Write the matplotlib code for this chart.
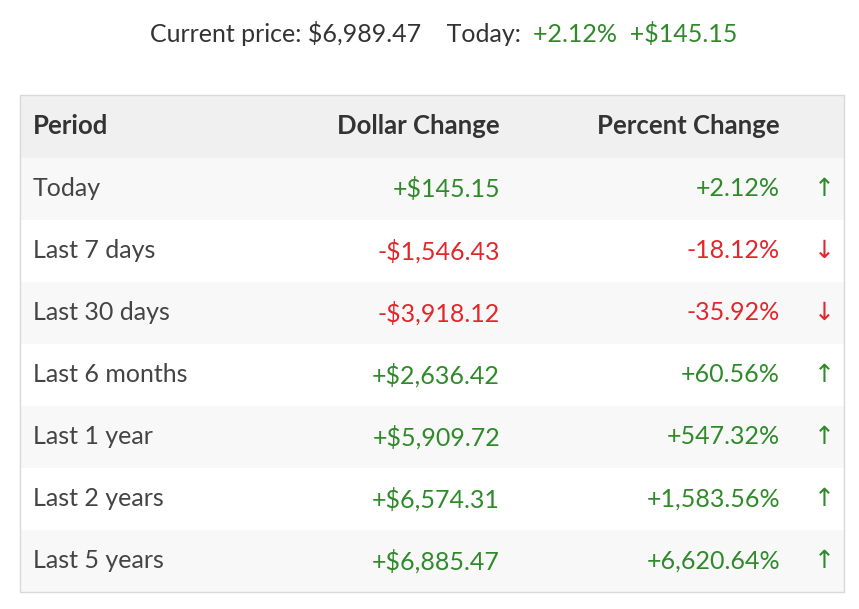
import matplotlib
matplotlib.use("Agg")
import matplotlib.pyplot as plt
from matplotlib.patches import Rectangle

periods = ["Today", "Last 7 days", "Last 30 days", "Last 6 months", "Last 1 year", "Last 2 years", "Last 5 years"]
dollar = ["+$145.15", "-$1,546.43", "-$3,918.12", "+$2,636.42", "+$5,909.72", "+$6,574.31", "+$6,885.47"]
percent = ["+2.12%", "-18.12%", "-35.92%", "+60.56%", "+547.32%", "+1,583.56%", "+6,620.64%"]
headers = ["Period", "Dollar Change", "Percent Change"]
current_price = "$6,989.47"
today_pct = "+2.12%"
today_usd = "+$145.15"

GREEN = "#2f8a2a"
RED = "#e3262b"
GRAY = "#444444"
FONT = "Lato"

fig = plt.figure(figsize=(8.59, 6.09), dpi=100)
ax = fig.add_axes([0, 0, 1, 1])
ax.set_xlim(0, 859); ax.set_ylim(609, 0); ax.axis("off")

ax.text(527, 34, f"Current price: {current_price}    Today: ", ha="right", va="center",
        fontsize=18, color="#333333", family=FONT)
ax.text(533, 34, f"{today_pct}  {today_usd}", ha="left", va="center",
        fontsize=18, color=GREEN, family=FONT)

x0, x1 = 20, 844
top, hh, rh = 95, 63, 62
ax.add_patch(Rectangle((x0, top), x1 - x0, hh, facecolor="#f0f0f0", edgecolor="none"))
hy = top + hh / 2
for x, h, ha in zip([33, 500, 780], headers, ["left", "right", "right"]):
    ax.text(x, hy, h, ha=ha, va="center", fontsize=18.5, weight="bold", color="#333333", family=FONT)

for i, (p, d, pc) in enumerate(zip(periods, dollar, percent)):
    y = top + hh + i * rh
    ax.add_patch(Rectangle((x0, y), x1 - x0, rh, facecolor="#f8f8f8" if i % 2 == 0 else "white", edgecolor="none"))
    c = RED if d.startswith("-") else GREEN
    cy = y + rh / 2
    ax.text(33, cy, p, ha="left", va="center", fontsize=18, color=GRAY, family=FONT)
    ax.text(500, cy, d, ha="right", va="center", fontsize=18, color=c, family=FONT)
    ax.text(780, cy, pc, ha="right", va="center", fontsize=18, color=c, family=FONT)
    ax.text(824, cy, "↓" if d.startswith("-") else "↑", ha="center", va="center",
            fontsize=18, color=c, family="DejaVu Sans")

bottom = top + hh + len(periods) * rh
ax.add_patch(Rectangle((x0, top), x1 - x0, bottom - top, facecolor="none", edgecolor="#d9d9d9", lw=1))

fig.savefig("out.png", dpi=100)
